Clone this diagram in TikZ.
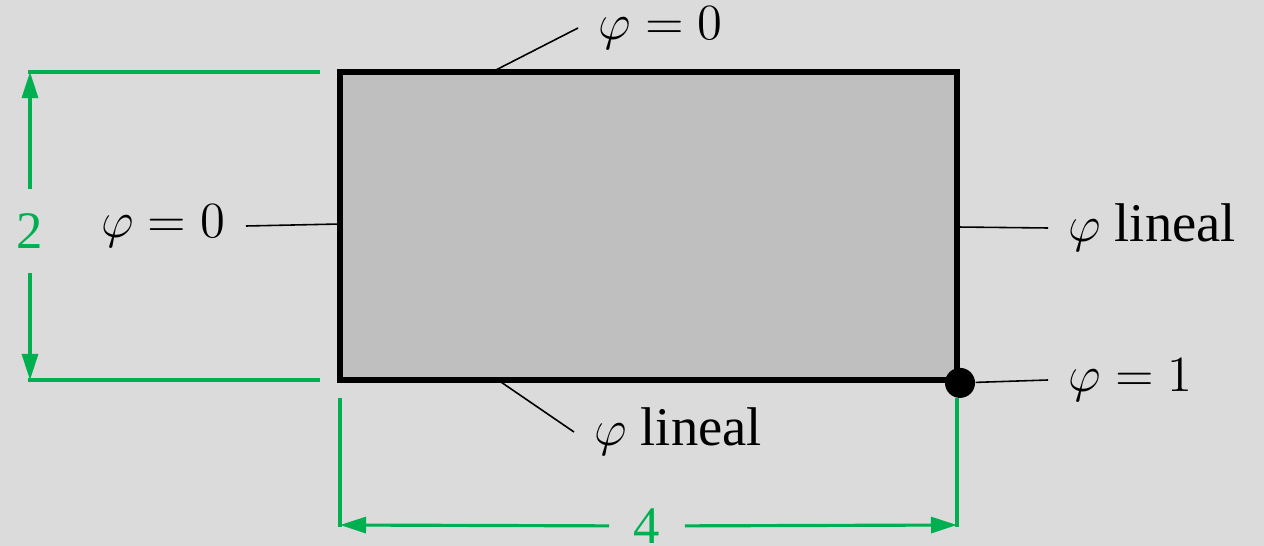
\documentclass[tikz,border=0pt]{standalone}
\usepackage{fontspec}
\setmainfont{Liberation Serif}
\usetikzlibrary{arrows.meta}
\definecolor{bggray}{HTML}{DBDBDB}
\definecolor{platefill}{HTML}{BFBFBF}
\definecolor{dimgreen}{HTML}{00B050}

\begin{document}
\begin{tikzpicture}[x=0.01cm, y=-0.01cm,
    plate/.style={draw, line width=1.6pt, fill=platefill, minimum width=6.17cm, minimum height=3.08cm, inner sep=0pt},
    lbl/.style={font=\fontsize{15.5}{18}\selectfont, inner xsep=0.2cm, inner ysep=0pt},
    leader/.style={line width=0.45pt},
    dim/.style={dimgreen, line width=0.9pt},
    dimarrow/.style={dim, -{Triangle[length=0.26cm, width=0.16cm]}},
    dimlbl/.style={dimgreen, font=\fontsize{15}{18}\selectfont, inner sep=0.24cm},
    dot/.style={circle, fill=black, minimum size=0.3cm, inner sep=0pt}
]
\fill[bggray] (0,0) rectangle (1264,546);
\useasboundingbox (0,0) rectangle (1264,546);

% placa
\node[plate] (plate) at (648.5,226) {};
\node[dot] (corner) at (plate.south east) {};

% condiciones de borde
\node[lbl, anchor=west] (topLbl) at (578,28) {$\varphi = 0$};
\node[lbl, anchor=east] (leftLbl) at (246,226) {$\varphi = 0$};
\node[lbl, anchor=west] (rightLbl) at (1048,228) {$\varphi$ lineal};
\node[lbl, anchor=west] (cornerLbl) at (1048,380) {$\varphi = 1$};
\node[lbl, anchor=west] (bottomLbl) at (574,432) {$\varphi$ lineal};

\coordinate (topEdge) at (492,72);
\coordinate (leftEdge) at (340,224);
\coordinate (rightEdge) at (957,227);
\coordinate (bottomEdge) at (498,380);
\draw[leader] (topEdge) -- (topLbl.west);
\draw[leader] (leftEdge) -- (leftLbl.east);
\draw[leader] (rightEdge) -- (rightLbl.west);
\draw[leader] (corner) -- (cornerLbl.west);
\draw[leader] (bottomEdge) -- (bottomLbl.west);

% cotas
\draw[dim] (28,72) -- (320,72);
\draw[dim] (28,380) -- (320,380);
\coordinate (hTop) at (30,72);
\coordinate (hBot) at (30,380);
\node[dimlbl] (hgt) at (30,231) {2};
\draw[dimarrow] (hgt) -- (hTop);
\draw[dimarrow] (hgt) -- (hBot);

\draw[dim] (340,398) -- (340,527);
\draw[dim] (957,398) -- (957,527);
\coordinate (wLeft) at (340,525);
\coordinate (wRight) at (957,525);
\node[dimlbl] (wid) at (647,526) {4};
\draw[dimarrow] (wid) -- (wLeft);
\draw[dimarrow] (wid) -- (wRight);
\end{tikzpicture}
\end{document}
